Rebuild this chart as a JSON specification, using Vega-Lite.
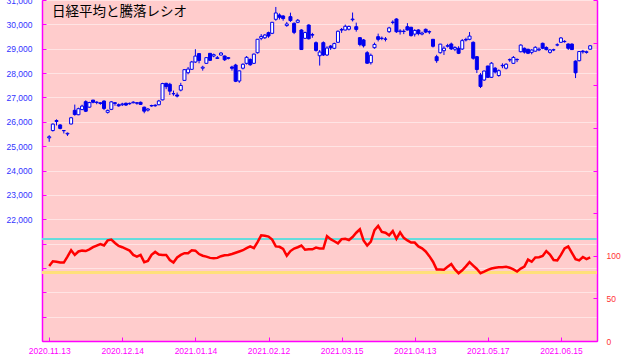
{
  "$schema": "https://vega.github.io/schema/vega-lite/v6.json",
  "width": 555,
  "height": 341,
  "autosize": {"type": "none"},
  "padding": {"left": 42, "top": 0, "right": 33, "bottom": 13},
  "background": "#ffffff",
  "title": {"text": "日経平均と騰落レシオ", "anchor": "start", "frame": "group", "font": "Noto Sans CJK JP", "fontSize": 13.5, "fontWeight": "normal", "color": "#000000", "offset": 0, "baseline": "top", "dx": 10, "dy": 22},
  "config": {
    "view": {"fill": "#ffcccc", "stroke": "#ff00ff", "strokeWidth": 1},
    "axis": {"labelFont": "Liberation Sans", "labelFontSize": 8.5, "domainColor": "#ff00ff", "domainWidth": 1.5, "tickColor": "#ff00ff", "tickSize": -4, "tickWidth": 1, "labelOverlap": false, "labelFlush": false}
  },
  "data": {"values": [
    {"i":0,"o":25340,"h":25450,"l":25180,"c":25385,"r":88},
    {"i":1,"o":25640,"h":25930,"l":25600,"c":25906,"r":93.5},
    {"i":2,"o":26050,"h":26100,"l":25850,"c":26014,"r":93},
    {"i":3,"o":25870,"h":25900,"l":25690,"c":25728,"r":92},
    {"i":4,"o":25640,"h":25660,"l":25520,"c":25634,"r":92},
    {"i":5,"o":25500,"h":25560,"l":25420,"c":25527,"r":99},
    {"i":6,"o":25910,"h":26200,"l":25890,"c":26165,"r":106.5},
    {"i":7,"o":26470,"h":26706,"l":26250,"c":26297,"r":101},
    {"i":8,"o":26290,"h":26580,"l":26270,"c":26537,"r":105},
    {"i":9,"o":26500,"h":26700,"l":26480,"c":26644,"r":106},
    {"i":10,"o":26825,"h":26880,"l":26400,"c":26433,"r":105.5},
    {"i":11,"o":26600,"h":26820,"l":26580,"c":26787,"r":107.5},
    {"i":12,"o":26890,"h":26900,"l":26760,"c":26800,"r":110},
    {"i":13,"o":26790,"h":26840,"l":26720,"c":26809,"r":112},
    {"i":14,"o":26780,"h":26800,"l":26700,"c":26751,"r":113.8},
    {"i":15,"o":26850,"h":26880,"l":26480,"c":26547,"r":112},
    {"i":16,"o":26388,"h":26500,"l":26340,"c":26467,"r":118},
    {"i":17,"o":26510,"h":26850,"l":26480,"c":26817,"r":119},
    {"i":18,"o":26780,"h":26810,"l":26660,"c":26756,"r":115},
    {"i":19,"o":26700,"h":26750,"l":26620,"c":26652,"r":111.5},
    {"i":20,"o":26700,"h":26780,"l":26650,"c":26732,"r":110},
    {"i":21,"o":26760,"h":26790,"l":26650,"c":26687,"r":108},
    {"i":22,"o":26740,"h":26790,"l":26700,"c":26757,"r":106},
    {"i":23,"o":26780,"h":26840,"l":26760,"c":26806,"r":101},
    {"i":24,"o":26780,"h":26800,"l":26700,"c":26763,"r":99},
    {"i":25,"o":26800,"h":26830,"l":26690,"c":26714,"r":101},
    {"i":26,"o":26600,"h":26620,"l":26350,"c":26436,"r":92.5},
    {"i":27,"o":26480,"h":26560,"l":26420,"c":26524,"r":94},
    {"i":28,"o":26650,"h":26700,"l":26620,"c":26668,"r":101},
    {"i":29,"o":26680,"h":26720,"l":26620,"c":26656,"r":104.5},
    {"i":30,"o":26700,"h":26900,"l":26680,"c":26854,"r":101.5},
    {"i":31,"o":26900,"h":27600,"l":26880,"c":27568,"r":101},
    {"i":32,"o":27580,"h":27600,"l":27340,"c":27444,"r":101},
    {"i":33,"o":27540,"h":27600,"l":27100,"c":27258,"r":95},
    {"i":34,"o":27150,"h":27280,"l":27070,"c":27158,"r":92},
    {"i":35,"o":27100,"h":27200,"l":27000,"c":27055,"r":98},
    {"i":36,"o":27300,"h":27600,"l":27250,"c":27490,"r":101},
    {"i":37,"o":27700,"h":28160,"l":27690,"c":28139,"r":103},
    {"i":38,"o":28015,"h":28250,"l":27950,"c":28164,"r":103},
    {"i":39,"o":28154,"h":28500,"l":28130,"c":28456,"r":106.5},
    {"i":40,"o":28454,"h":28979,"l":28420,"c":28698,"r":106},
    {"i":41,"o":28800,"h":28820,"l":28400,"c":28519,"r":102},
    {"i":42,"o":28200,"h":28300,"l":28100,"c":28242,"r":100},
    {"i":43,"o":28400,"h":28650,"l":28380,"c":28633,"r":99},
    {"i":44,"o":28810,"h":28820,"l":28500,"c":28523,"r":97.5},
    {"i":45,"o":28700,"h":28800,"l":28650,"c":28756,"r":97},
    {"i":46,"o":28600,"h":28700,"l":28580,"c":28631,"r":97.5},
    {"i":47,"o":28740,"h":28860,"l":28720,"c":28822,"r":99.5},
    {"i":48,"o":28700,"h":28720,"l":28500,"c":28546,"r":100.5},
    {"i":49,"o":28600,"h":28660,"l":28560,"c":28635,"r":101},
    {"i":50,"o":28250,"h":28300,"l":28100,"c":28197,"r":102},
    {"i":51,"o":28330,"h":28380,"l":27629,"c":27663,"r":103.5},
    {"i":52,"o":27674,"h":28100,"l":27600,"c":28091,"r":105},
    {"i":53,"o":28200,"h":28400,"l":28150,"c":28362,"r":106.5},
    {"i":54,"o":28400,"h":28700,"l":28350,"c":28646,"r":109},
    {"i":55,"o":28560,"h":28600,"l":28300,"c":28341,"r":111},
    {"i":56,"o":28400,"h":28800,"l":28380,"c":28779,"r":109},
    {"i":57,"o":28836,"h":29400,"l":28800,"c":29388,"r":116},
    {"i":58,"o":29427,"h":29600,"l":29350,"c":29505,"r":124},
    {"i":59,"o":29450,"h":29600,"l":29400,"c":29562,"r":123.5},
    {"i":60,"o":29658,"h":29700,"l":29450,"c":29520,"r":122.5},
    {"i":61,"o":29632,"h":30100,"l":29600,"c":30084,"r":119},
    {"i":62,"o":30207,"h":30714,"l":30150,"c":30467,"r":111},
    {"i":63,"o":30384,"h":30450,"l":30200,"c":30292,"r":110.5},
    {"i":64,"o":30343,"h":30380,"l":30150,"c":30236,"r":108},
    {"i":65,"o":29950,"h":30100,"l":29900,"c":30017,"r":100},
    {"i":66,"o":30316,"h":30480,"l":30100,"c":30156,"r":105.5},
    {"i":67,"o":30043,"h":30080,"l":29600,"c":29671,"r":108.5},
    {"i":68,"o":30085,"h":30220,"l":30050,"c":30168,"r":110},
    {"i":69,"o":29768,"h":29800,"l":28950,"c":28966,"r":112},
    {"i":70,"o":29427,"h":29700,"l":29400,"c":29663,"r":107},
    {"i":71,"o":29973,"h":30000,"l":29380,"c":29408,"r":107.5},
    {"i":72,"o":29580,"h":29650,"l":29450,"c":29559,"r":107.5},
    {"i":73,"o":29248,"h":29300,"l":28880,"c":28930,"r":109.5},
    {"i":74,"o":28713,"h":28950,"l":28308,"c":28864,"r":108.5},
    {"i":75,"o":29248,"h":29300,"l":28700,"c":28743,"r":108.5},
    {"i":76,"o":28742,"h":29100,"l":28700,"c":29027,"r":123},
    {"i":77,"o":29110,"h":29150,"l":28950,"c":29036,"r":119.5},
    {"i":78,"o":29017,"h":29250,"l":28980,"c":29211,"r":117},
    {"i":79,"o":29263,"h":29750,"l":29250,"c":29717,"r":114.5},
    {"i":80,"o":29790,"h":29850,"l":29650,"c":29766,"r":119.5},
    {"i":81,"o":29768,"h":29990,"l":29750,"c":29921,"r":120},
    {"i":82,"o":29800,"h":29950,"l":29750,"c":29914,"r":118.5},
    {"i":83,"o":30190,"h":30485,"l":30120,"c":30216,"r":122},
    {"i":84,"o":29904,"h":30070,"l":29700,"c":29792,"r":127},
    {"i":85,"o":29453,"h":29480,"l":29100,"c":29174,"r":131},
    {"i":86,"o":29360,"h":29400,"l":29050,"c":29120,"r":118},
    {"i":87,"o":28836,"h":28900,"l":28379,"c":28405,"r":112},
    {"i":88,"o":28426,"h":28800,"l":28350,"c":28729,"r":116.5},
    {"i":89,"o":29042,"h":29250,"l":29000,"c":29176,"r":130},
    {"i":90,"o":29494,"h":29620,"l":29300,"c":29384,"r":135},
    {"i":91,"o":29420,"h":29500,"l":29350,"c":29432,"r":128},
    {"i":92,"o":29400,"h":29480,"l":29300,"c":29388,"r":127},
    {"i":93,"o":29699,"h":29900,"l":29650,"c":29854,"r":124},
    {"i":94,"o":30080,"h":30167,"l":30000,"c":30089,"r":129},
    {"i":95,"o":30220,"h":30250,"l":29650,"c":29696,"r":120},
    {"i":96,"o":29700,"h":29800,"l":29580,"c":29730,"r":127.5},
    {"i":97,"o":29720,"h":29800,"l":29600,"c":29708,"r":121},
    {"i":98,"o":29904,"h":30050,"l":29750,"c":29768,"r":118},
    {"i":99,"o":29879,"h":29900,"l":29500,"c":29538,"r":115.5},
    {"i":100,"o":29600,"h":29800,"l":29500,"c":29751,"r":115.5},
    {"i":101,"o":29770,"h":29800,"l":29550,"c":29620,"r":111},
    {"i":102,"o":29600,"h":29700,"l":29550,"c":29642,"r":108.7},
    {"i":103,"o":29796,"h":29830,"l":29640,"c":29683,"r":105},
    {"i":104,"o":29700,"h":29750,"l":29600,"c":29685,"r":99.5},
    {"i":105,"o":29386,"h":29400,"l":29050,"c":29100,"r":93},
    {"i":106,"o":28672,"h":28750,"l":28420,"c":28508,"r":84},
    {"i":107,"o":28836,"h":29200,"l":28800,"c":29188,"r":84},
    {"i":108,"o":28919,"h":29100,"l":28742,"c":29020,"r":83.5},
    {"i":109,"o":29100,"h":29200,"l":29050,"c":29126,"r":87},
    {"i":110,"o":29193,"h":29250,"l":28950,"c":28991,"r":90.3},
    {"i":111,"o":28980,"h":29100,"l":28900,"c":29053,"r":84},
    {"i":112,"o":29017,"h":29100,"l":28780,"c":28812,"r":79.5},
    {"i":113,"o":28988,"h":29400,"l":28950,"c":29331,"r":83},
    {"i":114,"o":29380,"h":29450,"l":29300,"c":29357,"r":87.5},
    {"i":115,"o":29386,"h":29685,"l":29350,"c":29518,"r":92.5},
    {"i":116,"o":29263,"h":29300,"l":28550,"c":28608,"r":88.5},
    {"i":117,"o":28672,"h":28700,"l":28000,"c":28147,"r":84.5},
    {"i":118,"o":27920,"h":28000,"l":27385,"c":27448,"r":79.5},
    {"i":119,"o":27715,"h":28100,"l":27680,"c":28084,"r":81.3},
    {"i":120,"o":28290,"h":28300,"l":27800,"c":27824,"r":83.5},
    {"i":121,"o":27826,"h":28450,"l":27800,"c":28406,"r":85},
    {"i":122,"o":28200,"h":28250,"l":27980,"c":28044,"r":85.8},
    {"i":123,"o":27900,"h":28150,"l":27850,"c":28098,"r":86.4},
    {"i":124,"o":28300,"h":28400,"l":28200,"c":28317,"r":86.4},
    {"i":125,"o":28200,"h":28400,"l":28150,"c":28364,"r":87},
    {"i":126,"o":28540,"h":28600,"l":28460,"c":28553,"r":86},
    {"i":127,"o":28400,"h":28700,"l":28380,"c":28642,"r":84},
    {"i":128,"o":28560,"h":28600,"l":28450,"c":28549,"r":81.5},
    {"i":129,"o":28877,"h":29180,"l":28850,"c":29149,"r":85},
    {"i":130,"o":29017,"h":29050,"l":28800,"c":28860,"r":87.2},
    {"i":131,"o":28976,"h":29000,"l":28780,"c":28814,"r":95.5},
    {"i":132,"o":28850,"h":28980,"l":28770,"c":28946,"r":93},
    {"i":133,"o":28900,"h":29100,"l":28880,"c":29058,"r":98},
    {"i":134,"o":28950,"h":29050,"l":28900,"c":28980,"r":98.2},
    {"i":135,"o":29222,"h":29250,"l":28980,"c":29019,"r":99.7},
    {"i":136,"o":29050,"h":29100,"l":28930,"c":28963,"r":105.5},
    {"i":137,"o":28850,"h":28980,"l":28800,"c":28950,"r":101.5},
    {"i":138,"o":28950,"h":29000,"l":28900,"c":28958,"r":95},
    {"i":139,"o":29150,"h":29220,"l":29100,"c":29161,"r":94.5},
    {"i":140,"o":29263,"h":29480,"l":29250,"c":29441,"r":101},
    {"i":141,"o":29300,"h":29350,"l":29250,"c":29291,"r":108.5},
    {"i":142,"o":29193,"h":29220,"l":28950,"c":29018,"r":111},
    {"i":143,"o":29190,"h":29220,"l":28950,"c":28964,"r":103.5},
    {"i":144,"o":28490,"h":28520,"l":27795,"c":28010,"r":96},
    {"i":145,"o":28508,"h":28900,"l":28480,"c":28884,"r":94.5},
    {"i":146,"o":28900,"h":28950,"l":28800,"c":28874,"r":98.5},
    {"i":147,"o":28850,"h":28920,"l":28800,"c":28875,"r":96},
    {"i":148,"o":28980,"h":29150,"l":28960,"c":29120,"r":98}
  ]},
  "layer": [
    {
      "mark": {"type": "rule", "color": "#0000ee", "strokeWidth": 1},
      "encoding": {
        "x": {"field": "i", "type": "quantitative", "scale": {"domain": [-0.6, 148.5], "nice": false, "zero": false},
          "axis": {"orient": "bottom", "title": null, "grid": false, "values": [0,10,20,30,40,50,60,70,80,90,100,110,120,130,140],
            "labelExpr": "datum.value == 0 ? '2020.11.13' : datum.value == 20 ? '2020.12.14' : datum.value == 40 ? '2021.01.14' : datum.value == 60 ? '2021.02.12' : datum.value == 80 ? '2021.03.15' : datum.value == 100 ? '2021.04.13' : datum.value == 120 ? '2021.05.17' : datum.value == 140 ? '2021.06.15' : ''",
            "labelColor": "#ff00ff", "labelPadding": 9}},
        "y": {"field": "l", "type": "quantitative", "scale": {"domain": [17000, 31000], "nice": false, "zero": false},
          "axis": {"orient": "left", "title": null, "values": [17000,18000,19000,20000,21000,22000,23000,24000,25000,26000,27000,28000,29000,30000,31000],
            "labelExpr": "datum.value >= 22000 ? format(datum.value, ',') : ''", "labelColor": "#3333ff", "labelPadding": 14,
            "grid": true, "gridColor": "#ffe4e4", "gridWidth": 1}},
        "y2": {"field": "h"}
      }
    },
    {
      "mark": {"type": "bar", "size": 3, "stroke": "#0000ee", "strokeWidth": 1},
      "encoding": {
        "x": {"field": "i", "type": "quantitative"},
        "y": {"field": "o", "type": "quantitative", "scale": {"domain": [17000, 31000], "nice": false, "zero": false}, "axis": null},
        "y2": {"field": "c"},
        "fill": {"condition": {"test": "datum.c >= datum.o", "value": "#ffffff"}, "value": "#0000ee"}
      }
    },
    {
      "mark": {"type": "rule", "color": "#66dddd", "strokeWidth": 1},
      "encoding": {"y": {"datum": 120, "type": "quantitative", "scale": {"domain": [0, 400], "nice": false, "zero": true}, "axis": null}}
    },
    {
      "mark": {"type": "rule", "color": "#ffe07a", "strokeWidth": 2.5},
      "encoding": {"y": {"datum": 80, "type": "quantitative", "scale": {"domain": [0, 400], "nice": false, "zero": true}, "axis": null}}
    },
    {
      "mark": {"type": "line", "color": "#ff0000", "strokeWidth": 2.5},
      "encoding": {
        "x": {"field": "i", "type": "quantitative"},
        "y": {"field": "r", "type": "quantitative", "scale": {"domain": [0, 400], "nice": false, "zero": true},
          "axis": {"orient": "right", "title": null, "values": [0,50,100,150,200,250,300,350,400],
            "labelExpr": "datum.value <= 100 ? datum.label : ''", "labelColor": "#ff3333", "labelPadding": 13, "grid": false}}
      }
    }
  ],
  "resolve": {"scale": {"y": "independent"}}
}
